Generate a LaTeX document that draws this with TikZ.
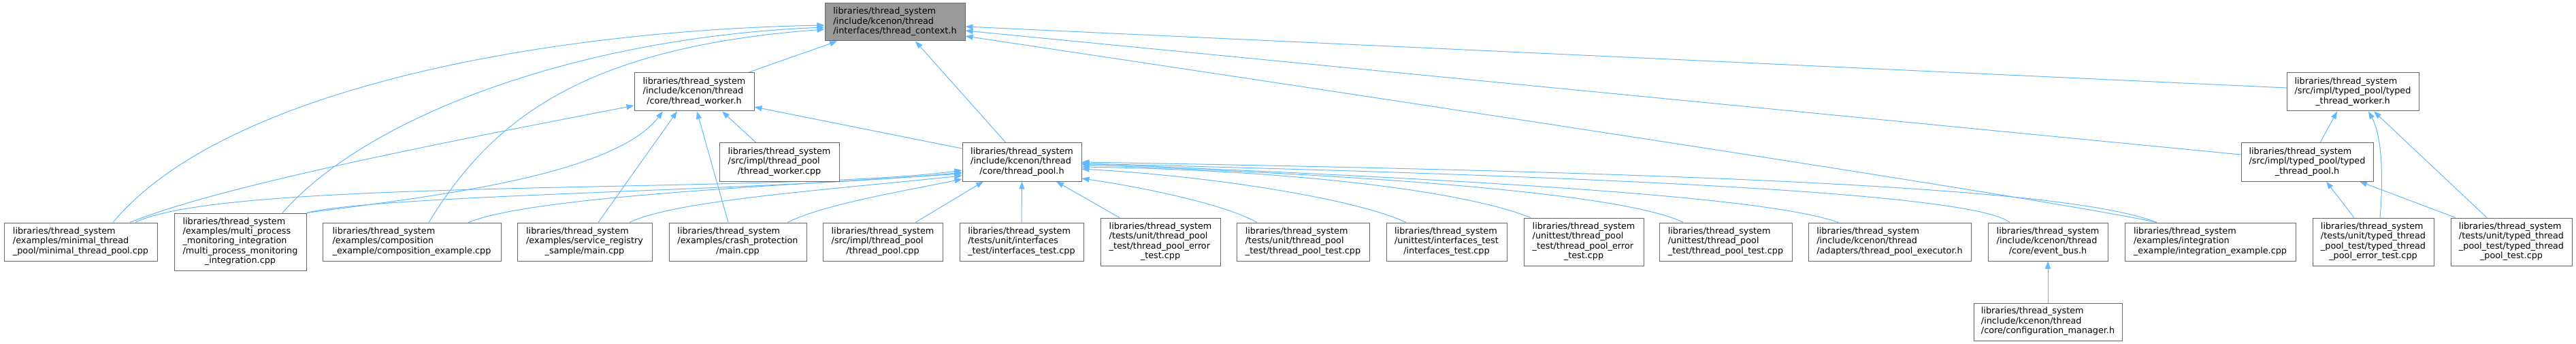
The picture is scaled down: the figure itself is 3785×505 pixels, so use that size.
\documentclass[tikz,border=0pt]{standalone}
\usepackage{fontspec}
\setmainfont{DejaVu Sans}
\usetikzlibrary{arrows.meta}
\definecolor{edgec}{HTML}{63B8FF}
\definecolor{boxc}{HTML}{666666}
\definecolor{selc}{HTML}{999999}
\newcommand{\fl}[2]{\begin{tabular}{@{}l@{}}#1\\\multicolumn{1}{@{}c@{}}{#2}\end{tabular}}
\pgfdeclarelayer{bg}
\pgfsetlayers{bg,main}
\begin{document}
\begin{tikzpicture}[x=1pt,y=-1pt,
  fbox/.style={draw=boxc, line width=1pt, fill=white, inner sep=0pt, minimum height=56pt,
    font=\fontsize{12.8}{14.4}\selectfont, text=black},
  hfour/.style={minimum height=70pt},
  hfive/.style={minimum height=84pt},
  sel/.style={fill=selc},
  dep/.style={draw=edgec, line width=1pt, -{Triangle[length=11pt,width=8pt]}},
]
\useasboundingbox (0,0) rectangle (3785,505);

% upper nodes
\node[fbox,sel,minimum width=206pt,minimum height=55pt] (ctx) at (1315,32.5) {\fl{libraries/thread\_system\\/include/kcenon/thread}{/interfaces/thread\_context.h}};
\node[fbox,minimum width=176pt] (tw) at (1020,135) {\fl{libraries/thread\_system\\/include/kcenon/thread}{/core/thread\_worker.h}};
\node[fbox,minimum width=176pt] (twcpp) at (1145,238) {\fl{libraries/thread\_system\\/src/impl/thread\_pool}{/thread\_worker.cpp}};
\node[fbox,minimum width=175pt] (tp) at (1501.5,238) {\fl{libraries/thread\_system\\/include/kcenon/thread}{/core/thread\_pool.h}};
\node[fbox,minimum width=194pt] (ttw) at (3457,135) {\fl{libraries/thread\_system\\/src/impl/typed\_pool/typed}{\_thread\_worker.h}};
\node[fbox,minimum width=194pt] (ttp) at (3390,238) {\fl{libraries/thread\_system\\/src/impl/typed\_pool/typed}{\_thread\_pool.h}};

% bottom row
\node[fbox,minimum width=225pt] (minimal) at (118.5,355) {\fl{libraries/thread\_system\\/examples/minimal\_thread}{\_pool/minimal\_thread\_pool.cpp}};
\node[fbox,hfive,minimum width=194pt] (multi) at (353,355) {\fl{libraries/thread\_system\\/examples/multi\_process\\\_monitoring\_integration\\/multi\_process\_monitoring}{\_integration.cpp}};
\node[fbox,minimum width=262pt] (compo) at (605,355) {\fl{libraries/thread\_system\\/examples/composition}{\_example/composition\_example.cpp}};
\node[fbox,minimum width=198pt] (servreg) at (859,355) {\fl{libraries/thread\_system\\/examples/service\_registry}{\_sample/main.cpp}};
\node[fbox,minimum width=202pt] (crash) at (1084,355) {\fl{libraries/thread\_system\\/examples/crash\_protection}{/main.cpp}};
\node[fbox,minimum width=176pt] (tpcpp) at (1297,355) {\fl{libraries/thread\_system\\/src/impl/thread\_pool}{/thread\_pool.cpp}};
\node[fbox,minimum width=182pt] (ifacetest) at (1501,355) {\fl{libraries/thread\_system\\/tests/unit/interfaces}{\_test/interfaces\_test.cpp}};
\node[fbox,hfour,minimum width=176pt] (tperr) at (1705,355) {\fl{libraries/thread\_system\\/tests/unit/thread\_pool\\\_test/thread\_pool\_error}{\_test.cpp}};
\node[fbox,minimum width=195pt] (tptest) at (1914.5,355) {\fl{libraries/thread\_system\\/tests/unit/thread\_pool}{\_test/thread\_pool\_test.cpp}};
\node[fbox,minimum width=177pt] (uiface) at (2125.5,355) {\fl{libraries/thread\_system\\/unittest/interfaces\_test}{/interfaces\_test.cpp}};
\node[fbox,hfour,minimum width=176pt] (uerr) at (2327,355) {\fl{libraries/thread\_system\\/unittest/thread\_pool\\\_test/thread\_pool\_error}{\_test.cpp}};
\node[fbox,minimum width=195pt] (utest) at (2535.5,355) {\fl{libraries/thread\_system\\/unittest/thread\_pool}{\_test/thread\_pool\_test.cpp}};
\node[fbox,minimum width=239pt] (exec) at (2776.5,355) {\fl{libraries/thread\_system\\/include/kcenon/thread}{/adapters/thread\_pool\_executor.h}};
\node[fbox,minimum width=176pt] (ebus) at (3009,355) {\fl{libraries/thread\_system\\/include/kcenon/thread}{/core/event\_bus.h}};
\node[fbox,minimum width=251pt] (integ) at (3247.5,355) {\fl{libraries/thread\_system\\/examples/integration}{\_example/integration\_example.cpp}};
\node[fbox,hfour,minimum width=178pt] (terr) at (3487,355) {\fl{libraries/thread\_system\\/tests/unit/typed\_thread\\\_pool\_test/typed\_thread}{\_pool\_error\_test.cpp}};
\node[fbox,hfour,minimum width=178pt] (ttest) at (3690,355) {\fl{libraries/thread\_system\\/tests/unit/typed\_thread\\\_pool\_test/typed\_thread}{\_pool\_test.cpp}};
\node[fbox,minimum width=218pt,minimum height=55pt] (cfg) at (3009,472.5) {\fl{libraries/thread\_system\\/include/kcenon/thread}{/core/configuration\_manager.h}};

\begin{pgfonlayer}{bg}
% into thread_context.h
\draw[dep] ([xshift=47.5pt]minimal.north) .. controls (330,130) and (800,45) .. ([yshift=-4.5pt]ctx.west);
\draw[dep] ([xshift=62pt]multi.north) .. controls (540,170) and (850,55) .. ([yshift=-7.5pt]ctx.west);
\draw[dep] ([xshift=25pt]compo.north) .. controls (720,180) and (850,70) .. ([yshift=-10.5pt]ctx.west);
\draw[dep] ([xshift=79pt]tw.north) -- ([xshift=-85pt]ctx.south);
\draw[dep] ([xshift=-23.5pt]tp.north) -- ([xshift=30pt]ctx.south);
\draw[dep] ([xshift=-78.5pt]integ.north) .. controls (3000,290) and (2000,140) .. ([yshift=-20.5pt]ctx.east);
\draw[dep] ([yshift=11pt]ttp.west) -- ([yshift=-12.5pt]ctx.east);
\draw[dep] ([yshift=6pt]ttw.west) -- ([yshift=-6.5pt]ctx.east);
% into thread_worker.h
\draw[dep] ([xshift=72.5pt]minimal.north) .. controls (330,270) and (700,200) .. ([yshift=-20pt]tw.west);
\draw[dep] (multi.north east) .. controls (620,290) and (900,260) .. ([xshift=-46pt]tw.south);
\draw[dep] ([xshift=20pt]servreg.north) -- ([xshift=-25pt]tw.south);
\draw[dep] ([xshift=-14pt]crash.north) -- ([xshift=4pt]tw.south);
\draw[dep] ([xshift=-34pt]twcpp.north) -- ([xshift=41pt]tw.south);
\draw[dep] ([yshift=20pt]tp.west) -- ([yshift=-22pt]tw.east);
% into thread_pool.h
\draw[dep] ([xshift=80.5pt]minimal.north) .. controls (330,260) and (1150,285) .. ([yshift=-12pt]tp.west);
\draw[dep] (multi.north east) .. controls (560,285) and (1150,280) .. ([yshift=-15pt]tp.west);
\draw[dep] ([xshift=83pt]compo.north) .. controls (780,290) and (1100,275) .. ([yshift=-17pt]tp.west);
\draw[dep] ([xshift=66pt]servreg.north) .. controls (990,295) and (1200,280) .. ([yshift=-20pt]tp.west);
\draw[dep] ([xshift=73pt]crash.north) .. controls (1210,300) and (1330,280) .. ([yshift=-25pt]tp.west);
\draw[dep] ([xshift=48pt]tpcpp.north) -- ([xshift=-56.5pt]tp.south);
\draw[dep] (ifacetest.north) -- (tp.south);
\draw[dep] ([xshift=-60pt]tperr.north) -- ([xshift=50.5pt]tp.south);
\draw[dep] ([xshift=-67.5pt]tptest.north) .. controls (1800,300) and (1680,275) .. ([yshift=-24pt]tp.east);
\draw[dep] ([xshift=-59.5pt]uiface.north) .. controls (2000,295) and (1800,260) .. ([yshift=-10pt]tp.east);
\draw[dep] ([xshift=-78pt]uerr.north) .. controls (2150,280) and (1900,250) .. ([yshift=-7pt]tp.east);
\draw[dep] ([xshift=-62.5pt]utest.north) .. controls (2400,290) and (2100,260) .. ([yshift=-4pt]tp.east);
\draw[dep] ([xshift=-75.5pt]exec.north) .. controls (2600,290) and (2200,265) .. ([yshift=-2pt]tp.east);
\draw[dep] ([xshift=-56pt]ebus.north) .. controls (2900,285) and (2400,260) .. ([yshift=-2pt]tp.east);
\draw[dep] ([xshift=-78.5pt]integ.north) .. controls (3050,280) and (2600,255) .. (tp.east);
% others
\draw[dep] (cfg.north) -- (ebus.south);
\draw[dep] ([xshift=19pt]ttp.north) -- ([xshift=-23pt]ttw.south);
\draw[dep] ([xshift=10pt]terr.north) .. controls (3502,260) and (3500,200) .. ([xshift=23pt]ttw.south);
\draw[dep] ([xshift=-36pt]ttest.north) -- ([xshift=31pt]ttw.south);
\draw[dep] ([xshift=-28pt]terr.north) -- ([xshift=28pt]ttp.south);
\draw[dep] ([xshift=-82pt]ttest.north) -- ([xshift=77pt]ttp.south);
\end{pgfonlayer}
\end{tikzpicture}
\end{document}
